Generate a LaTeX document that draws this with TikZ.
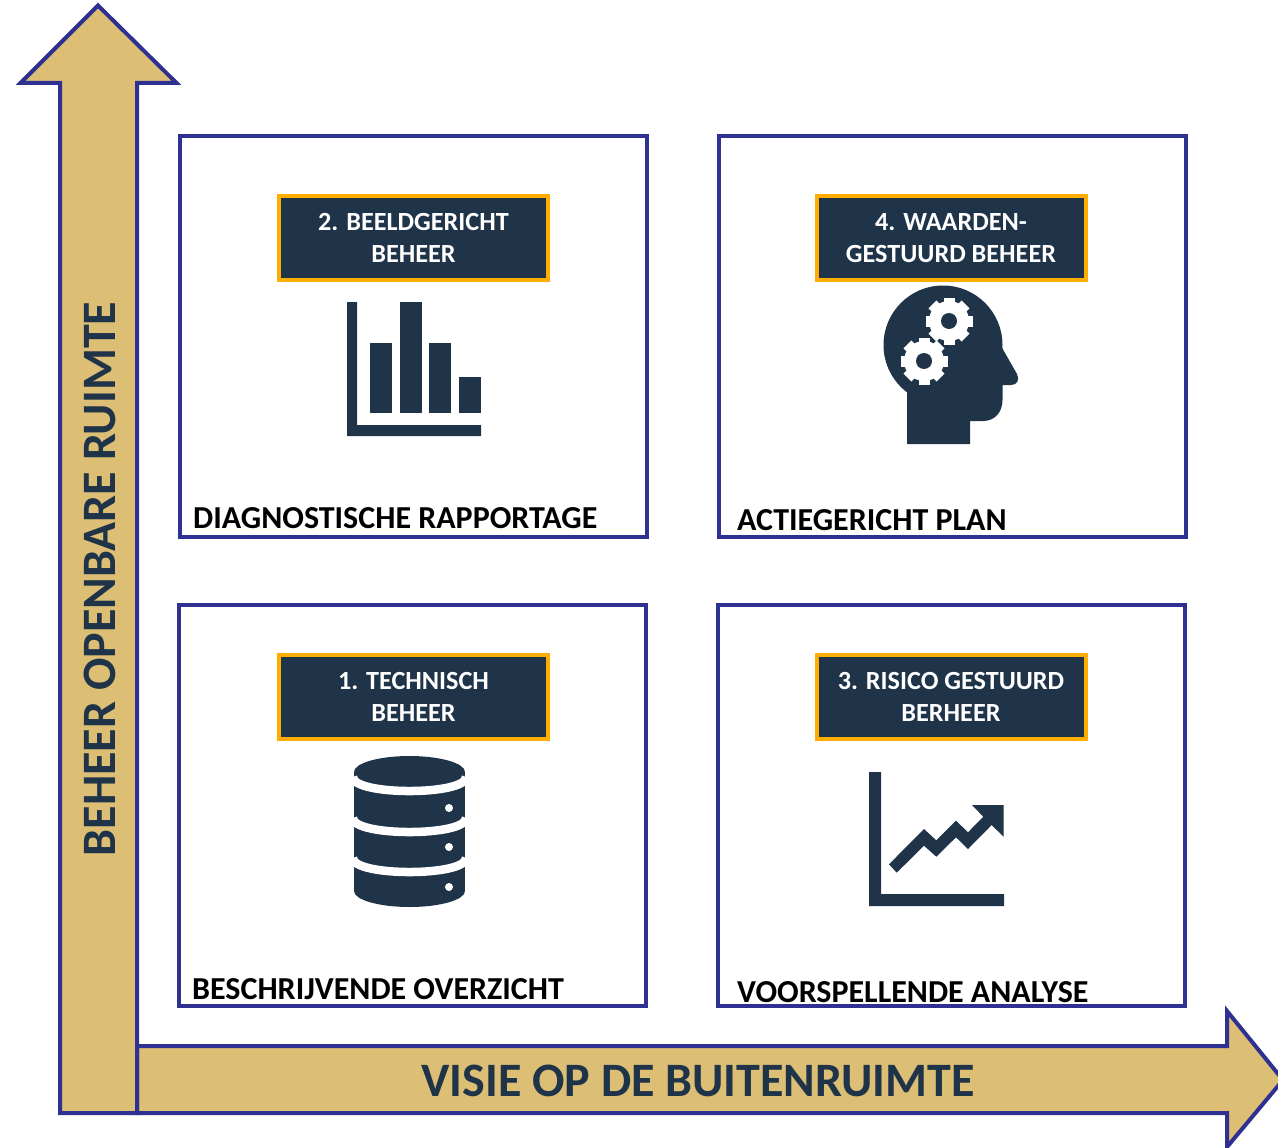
\documentclass[tikz,border=0pt]{standalone}
\usepackage{fontspec}
\setmainfont{Carlito}
\usetikzlibrary{positioning}
\definecolor{axisblue}{HTML}{2E3192}
\definecolor{axisgold}{HTML}{DCBF75}
\definecolor{navy}{HTML}{1F3349}
\definecolor{amber}{HTML}{FFAE00}
\begin{document}
\begin{tikzpicture}[x=1pt,y=-1pt,
    axis/.style={draw=axisblue,fill=axisgold,line width=4pt,line join=miter},
    axislabel/.style={text=navy,font=\fontsize{48}{52}\selectfont\bfseries},
    panel/.style={draw=axisblue,line width=4pt,minimum width=467pt,minimum height=401pt,inner sep=0pt},
    badge/.style={draw=amber,fill=navy,text=white,line width=4pt,minimum width=269pt,minimum height=84pt,inner sep=0pt,align=center,font=\fontsize{26.2}{32}\selectfont\bfseries},
    caption/.style={text=black,anchor=west,inner sep=0pt,font=\fontsize{32}{36}\selectfont\bfseries},
    icon/.style={fill=navy,draw=none},
    tooth/.style={draw=white,line width=11pt}]
  \useasboundingbox (0,0) rectangle (1278,1148);
  % axes
  \draw[axis] (137,1046) -- (1227,1046) -- (1227,1011) -- (1283,1080) -- (1227,1147) -- (1227,1113) -- (137,1113) -- cycle;
  \draw[axis] (60,1113) -- (60,83) -- (20.5,83) -- (98,5.5) -- (176.5,83) -- (137,83) -- (137,1113) -- cycle;
  \node[axislabel] (xlabel) at (698,1081) {VISIE OP DE BUITENRUIMTE};
  \node[axislabel,rotate=90] (ylabel) at (100,579) {BEHEER OPENBARE RUIMTE};
  % panels
  \node[panel] (panelB) at (413,336.5) {};
  \node[panel] (panelD) at (952,336.5) {};
  \node[panel] (panelA) at (412,805.5) {};
  \node[panel] (panelC) at (951,805.5) {};
  \node[badge] (badgeB) at (413.5,238) {\raisebox{-1pt}{2. BEELDGERICHT}\\\raisebox{-1pt}{BEHEER}};
  \node[badge] (badgeD) at (951,238) {\raisebox{-1pt}{4. WAARDEN-}\\\raisebox{-1pt}{GESTUURD BEHEER}};
  \node[badge] (badgeA) at (413.5,697) {\raisebox{-1pt}{1. TECHNISCH}\\\raisebox{-1pt}{BEHEER}};
  \node[badge] (badgeC) at (951,697) {\raisebox{-1pt}{3. RISICO GESTUURD}\\\raisebox{-1pt}{BERHEER}};
  \node[caption] (captionB) at (193,518) {DIAGNOSTISCHE RAPPORTAGE};
  \node[caption] (captionD) at (737,520) {ACTIEGERICHT PLAN};
  \node[caption] (captionA) at (192,989) {BESCHRIJVENDE OVERZICHT};
  \node[caption] (captionC) at (737,992) {VOORSPELLENDE ANALYSE};
  % bar chart
  \fill[icon] (347,302) -- (357,302) -- (357,425) -- (481,425) -- (481,436) -- (347,436) -- cycle;
  \foreach \xa/\ya in {370/343,400/302,429/343,459/377}
    \fill[icon] (\xa,\ya) rectangle (\xa+22,413);
  % head with gears
  \fill[icon] (943,345) circle [radius=59.5];
  \fill[icon] (907,380) -- (907,444) -- (970,444) -- (970,421) -- (983,421)
    .. controls (995,421) and (1002.5,412) .. (1002.5,400) -- (1002.5,385) -- (1011,385)
    .. controls (1017,385) and (1020,380) .. (1017,374) -- (1001,346) -- cycle;
  \coordinate (gearT) at (949,321);
  \coordinate (gearL) at (924,361);
  \foreach \gear in {gearT,gearL} {
    \fill[white] (\gear) circle [radius=20];
    \foreach \a in {0,45,...,315}
      \draw[tooth] (\gear) -- ++(\a:23.5);
    \fill[icon] (\gear) circle [radius=8];
  }
  % database
  \fill[icon] (409.5,772) ellipse [x radius=55.5,y radius=16];
  \fill[icon] (354,772) rectangle (465,891);
  \fill[icon] (409.5,891) ellipse [x radius=55.5,y radius=16];
  \foreach \ya in {777,818,858}
    \draw[white,line width=8.5pt] (353,\ya) .. controls (353,\ya+18.7) and (466,\ya+18.7) .. (466,\ya);
  \foreach \ya in {808,847,887}
    \fill[white] (449,\ya) circle [radius=4];
  % trend chart
  \fill[icon] (869,772) -- (881,772) -- (881,894) -- (1004,894) -- (1004,906) -- (869,906) -- cycle;
  \fill[icon] (889,864.3) -- (896.7,872.7) -- (924,845.7) -- (936.3,856.7) -- (956,837.3) -- (968,849) -- (991.7,825)
    -- (1003.5,836.7) -- (1003.5,805) -- (972,805) -- (983.3,816.7) -- (968,832.3) -- (956,820.7) -- (936.3,840.3) -- (924,829) -- cycle;
\end{tikzpicture}
\end{document}
